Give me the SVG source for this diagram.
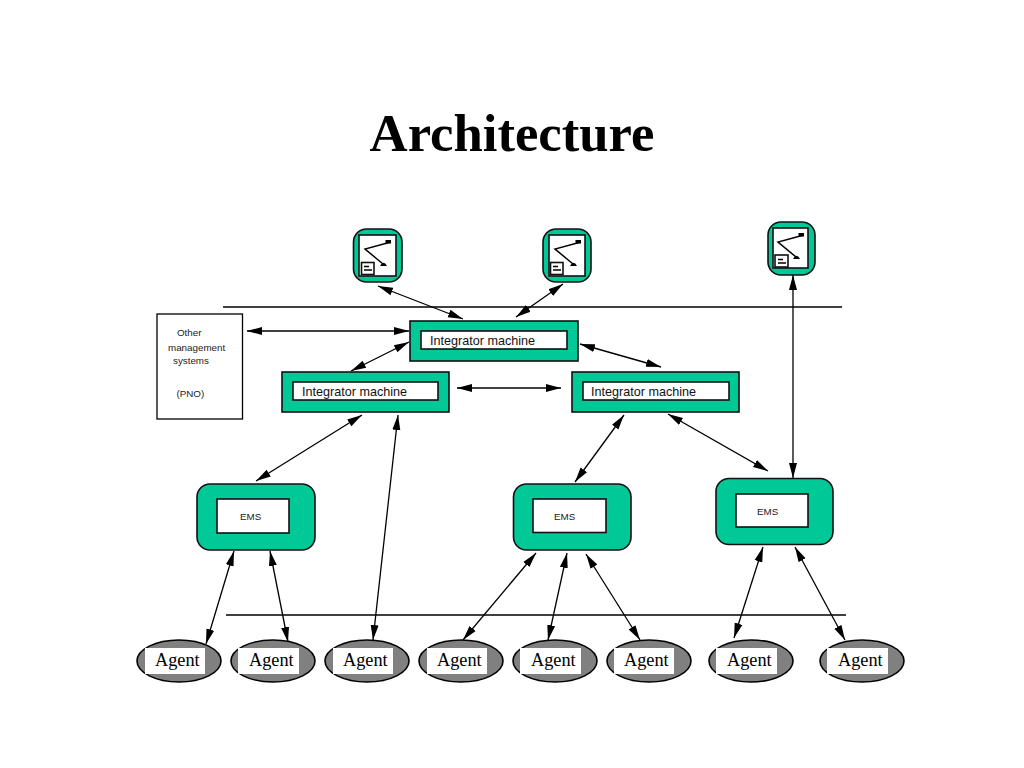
<svg xmlns="http://www.w3.org/2000/svg" xmlns:xlink="http://www.w3.org/1999/xlink" width="1024" height="768" viewBox="0 0 1024 768">
<style>
.g{fill:#00c896;stroke:#111;stroke-width:1.6}
.w{fill:#fff;stroke:#111;stroke-width:1.6}
.c{fill:none;stroke:#000;stroke-width:1.3;marker-start:url(#a);marker-end:url(#a)}
.s{font-family:"Liberation Sans",Arial,sans-serif;font-size:9.8px;fill:#222}
.m{font-family:"Liberation Sans",Arial,sans-serif;font-size:12.6px;fill:#111}
.ag{font-family:"Liberation Serif","Times New Roman",serif;font-size:18.300px;fill:#000}
.ell{fill:#808080;stroke:#000;stroke-width:1.6}
</style>
<defs>
<marker id="a" markerUnits="userSpaceOnUse" markerWidth="16" markerHeight="10" refX="15" refY="5" orient="auto-start-reverse"><path d="M0 1 L15 5 L0 9 Z" fill="#000"/></marker>
<g id="icon">
<path d="M32 7 L6 14 L24 29" fill="none" stroke="#000" stroke-width="1.500"/>
<rect x="26.500" y="5" width="5.500" height="3.500" fill="#000"/>
<path d="M21 31 Q24.500 24.500 28 31 Z" fill="#000"/>
</g>
</defs>
<text x="512" y="151" text-anchor="middle" font-family="'Liberation Serif','Times New Roman',serif" font-size="52.700" font-weight="bold">Architecture</text>

<g id="separators" fill="none" stroke="#000" stroke-width="1.600">
<path d="M223 307H842"/>
<path d="M226 615H846"/>
</g>

<g id="connectors">
<path class="c" d="M378 286L463 319"/>
<path class="c" d="M563 284L516 317"/>
<path class="c" d="M247 331L409 331"/>
<path class="c" d="M409 342L351 371"/>
<path class="c" d="M580 344L661 367"/>
<path class="c" d="M457 388L561 388"/>
<path class="c" d="M362 415L256 481"/>
<path class="c" d="M398 415L373 640"/>
<path class="c" d="M624 415L575 482"/>
<path class="c" d="M668 414L768 471"/>
<path class="c" d="M793 275L793 478"/>
<path class="c" d="M234 551L206 644"/>
<path class="c" d="M270 551L288 642"/>
<path class="c" d="M536 553L463 640"/>
<path class="c" d="M567 553L548 640"/>
<path class="c" d="M586 554L640 640"/>
<path class="c" d="M763 547L734 638"/>
<path class="c" d="M795 547L845 640"/>
</g>

<g id="terminal1">
<rect class="g" x="353.500" y="229" width="48.500" height="53" rx="13"/>
<rect class="w" x="359" y="235" width="37" height="41"/>
<use xlink:href="#icon" href="#icon" x="359" y="235"/>
<rect class="w" x="361.500" y="262.500" width="12.500" height="12"/>
<path d="M364 266.500H369M364 270H372" stroke="#000" stroke-width="1.300"/>
</g>
<g id="terminal2">
<rect class="g" x="543" y="229" width="48" height="53" rx="13"/>
<rect class="w" x="549" y="235" width="36" height="41"/>
<use xlink:href="#icon" href="#icon" x="549" y="235"/>
<rect class="w" x="550.500" y="262.500" width="12.500" height="12"/>
<path d="M553 266.500H558M553 270H561" stroke="#000" stroke-width="1.300"/>
</g>
<g id="terminal3">
<rect class="g" x="768" y="222" width="47" height="53" rx="13"/>
<rect class="w" x="773" y="228" width="35" height="40"/>
<use xlink:href="#icon" href="#icon" x="772" y="228"/>
<rect class="w" x="775" y="255" width="13" height="12"/>
<path d="M778 259.500H783M778 263H786" stroke="#000" stroke-width="1.300"/>
</g>

<g id="other-systems">
<rect x="157" y="314" width="85.500" height="105" fill="#fff" stroke="#000" stroke-width="1.300"/>
<text class="s" x="177" y="336">Other</text>
<text class="s" x="168" y="351">management</text>
<text class="s" x="173" y="364">systems</text>
<text class="s" x="176.500" y="397">(PNO)</text>
</g>

<g id="integrator-top">
<rect class="g" x="410" y="321" width="168" height="40"/>
<rect class="w" x="421" y="331" width="146" height="18"/>
<text class="m" x="430" y="345">Integrator machine</text>
</g>
<g id="integrator-left">
<rect class="g" x="282" y="372" width="167" height="40"/>
<rect class="w" x="293" y="382" width="145" height="18"/>
<text class="m" x="302" y="396">Integrator machine</text>
</g>
<g id="integrator-right">
<rect class="g" x="572" y="372" width="167" height="40"/>
<rect class="w" x="583" y="382" width="146" height="18"/>
<text class="m" x="591" y="396">Integrator machine</text>
</g>

<g id="ems1">
<rect class="g" x="197" y="484" width="118" height="66" rx="13"/>
<rect class="w" x="217" y="499" width="72" height="34"/>
<text class="s" x="240" y="520">EMS</text>
</g>
<g id="ems2">
<rect class="g" x="513.500" y="484" width="117.500" height="66" rx="13"/>
<rect class="w" x="533" y="499" width="73" height="33.500"/>
<text class="s" x="554" y="520">EMS</text>
</g>
<g id="ems3">
<rect class="g" x="716" y="478.500" width="117" height="66" rx="13"/>
<rect class="w" x="736" y="494" width="72" height="33"/>
<text class="s" x="757" y="515">EMS</text>
</g>

<g id="agent1"><ellipse class="ell" cx="179" cy="661" rx="42" ry="21"/><rect x="145" y="648" width="60" height="26" fill="#fff"/><text class="ag" x="155" y="666">Agent</text></g>
<g id="agent2"><ellipse class="ell" cx="273" cy="661" rx="42" ry="21"/><rect x="238" y="648" width="61" height="26" fill="#fff"/><text class="ag" x="249" y="666">Agent</text></g>
<g id="agent3"><ellipse class="ell" cx="367" cy="661" rx="42" ry="21"/><rect x="333" y="648" width="60" height="26" fill="#fff"/><text class="ag" x="343" y="666">Agent</text></g>
<g id="agent4"><ellipse class="ell" cx="461" cy="661" rx="42" ry="21"/><rect x="427" y="648" width="60" height="26" fill="#fff"/><text class="ag" x="437" y="666">Agent</text></g>
<g id="agent5"><ellipse class="ell" cx="555" cy="661" rx="42" ry="21"/><rect x="520" y="648" width="61" height="26" fill="#fff"/><text class="ag" x="531" y="666">Agent</text></g>
<g id="agent6"><ellipse class="ell" cx="649" cy="661" rx="42" ry="21"/><rect x="614" y="648" width="60" height="26" fill="#fff"/><text class="ag" x="624" y="666">Agent</text></g>
<g id="agent7"><ellipse class="ell" cx="751" cy="661" rx="42" ry="21"/><rect x="716" y="648" width="61" height="26" fill="#fff"/><text class="ag" x="727" y="666">Agent</text></g>
<g id="agent8"><ellipse class="ell" cx="862" cy="661" rx="42" ry="21"/><rect x="827" y="648" width="61" height="26" fill="#fff"/><text class="ag" x="838" y="666">Agent</text></g>
</svg>
